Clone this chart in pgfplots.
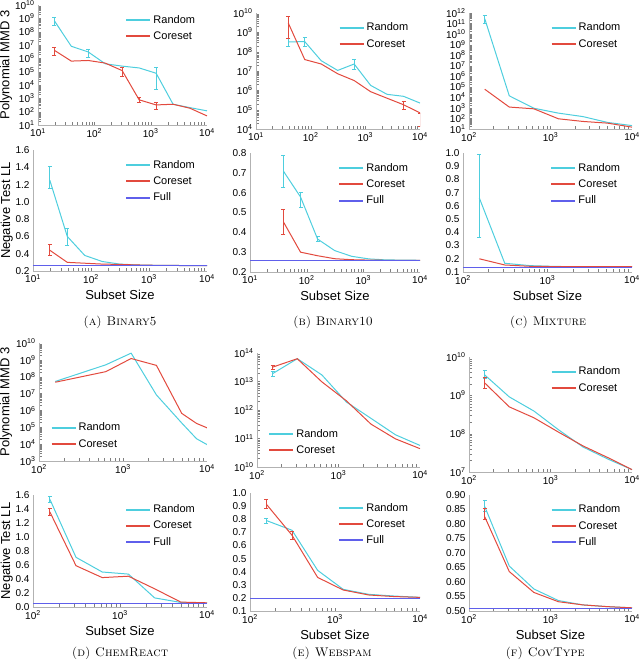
\documentclass[border=0pt]{standalone}
\usepackage{fontspec}
\newfontfamily\plotfont{Liberation Sans}
\usepackage{pgfplots}
\pgfplotsset{compat=1.18}

\definecolor{rndc}{RGB}{78,206,222}
\definecolor{corc}{RGB}{226,74,62}
\definecolor{fullc}{RGB}{95,95,235}
\newcommand{\tp}[1]{10\textsuperscript{#1}}

\pgfplotsset{
  every axis/.append style={
    scale only axis,
    axis lines*=left,
    axis line style={draw=black!30, line width=0.8pt},
    major tick length=0pt,
    tick label style={font=\plotfont\fontsize{10}{12}\selectfont},
    every axis label/.append style={font=\plotfont\fontsize{13}{15}\selectfont},
    legend style={draw=none, fill=none, font=\plotfont\fontsize{11}{13}\selectfont, row sep=3pt},
    legend cell align=left,
  },
  every outer x axis line/.style={-},
  every outer y axis line/.style={-},
  legend image code/.code={\draw[#1, line width=2pt] (0pt,0pt) -- (24pt,0pt);},
  myrnd/.style={color=rndc, line width=1pt, mark=none},
  mycor/.style={color=corc, line width=1pt, mark=none},
  myfull/.style={color=fullc, line width=1.2pt, mark=none},
  myerr/.style={error bars/y dir=both, error bars/y explicit, error bars/error mark=-,
    error bars/error bar style={line width=0.8pt}},
  mylin/.style={yticklabel style={/pgf/number format/fixed, /pgf/number format/fixed zerofill,
    /pgf/number format/precision=#1, /pgf/number format/assume math mode=true}},
  mytr/.style={legend style={at={(0.96,0.95)}, anchor=north east}},
  mybl/.style={legend style={at={(0.05,0.07)}, anchor=south west}},
}

\begin{document}
\begin{tikzpicture}
\useasboundingbox (0,0) rectangle (640pt,670pt);

% ---------- (a) Binary5 ----------
\begin{axis}[at={(38pt,545pt)}, anchor=south west, width=169pt, height=120pt,
  xmode=log, ymode=log, xmin=10, xmax=1e4,
  xtick={10,100,1000,10000}, xticklabels={\tp{1},\tp{2},\tp{3},\tp{4}},
  ymin=1e1, ymax=1e10,
  ytick={1e1,1e2,1e3,1e4,1e5,1e6,1e7,1e8,1e9,1e10},
  yticklabels={\tp{1},\tp{2},\tp{3},\tp{4},\tp{5},\tp{6},\tp{7},\tp{8},\tp{9},\tp{10}},
  ylabel={Polynomial MMD 3}, ylabel shift=-4pt, mytr]
\addplot[myrnd, myerr] coordinates {
  (19.5,6.6e8) += (0,5.4e8) -= (0,3.5e8)
  (39,8e6) (78,3e6) += (0,2.2e6) -= (0,1.8e6)
  (156,3.9e5) (312,2.6e5) (625,1.9e5)
  (1250,7.6e4) += (0,1.4e5) -= (0,7.1e4)
  (2500,3.6e2) (5000,2e2) (10000,1.15e2)
};
\addplot[mycor, myerr] coordinates {
  (19.5,4e6) += (0,2.3e6) -= (0,2.3e6)
  (39,6.2e5) (78,6.9e5) (156,4.4e5)
  (312,1.2e5) += (0,1e5) -= (0,7.7e4)
  (625,7.7e2) += (0,4.3e2) -= (0,2.8e2)
  (1250,3.2e2) += (0,1.7e2) -= (0,1.7e2)
  (2500,3.6e2) (5000,1.8e2) (10000,48)
};
\legend{Random,Coreset}
\end{axis}

\begin{axis}[at={(33pt,399pt)}, anchor=south west, width=174pt, height=121pt,
  xmode=log, xmin=10, xmax=1e4,
  xtick={10,100,1000,10000}, xticklabels={\tp{1},\tp{2},\tp{3},\tp{4}},
  ymin=0.2, ymax=1.6, ytick={0.2,0.4,...,1.6}, mylin=1,
  ylabel={Negative Test LL}, ylabel shift=-4pt, xlabel={Subset Size}, mytr]
\addplot[myrnd, myerr] coordinates {
  (19.5,1.25) += (0,0.16) -= (0,0.09)
  (39,0.60) += (0,0.10) -= (0,0.10)
  (78,0.38) (156,0.31) (312,0.28) (625,0.27) (1250,0.266) (2500,0.264) (5000,0.263) (10000,0.263)
};
\addplot[mycor, myerr] coordinates {
  (19.5,0.44) += (0,0.07) -= (0,0.06)
  (39,0.30) (78,0.29) (156,0.28) (312,0.276) (625,0.27) (1250,0.266) (2500,0.264) (5000,0.263) (10000,0.263)
};
\addplot[myfull] coordinates {(10,0.262) (10000,0.262)};
\legend{Random,Coreset,Full}
\end{axis}

% ---------- (b) Binary10 ----------
\begin{axis}[at={(256pt,541pt)}, anchor=south west, width=164pt, height=116pt,
  xmode=log, ymode=log, xmin=10, xmax=1e4,
  xtick={10,100,1000,10000}, xticklabels={\tp{1},\tp{2},\tp{3},\tp{4}},
  ymin=1e4, ymax=1e10,
  ytick={1e4,1e5,1e6,1e7,1e8,1e9,1e10},
  yticklabels={\tp{4},\tp{5},\tp{6},\tp{7},\tp{8},\tp{9},\tp{10}}, mytr]
\addplot[myrnd, myerr] coordinates {
  (39,3.2e8) += (0,1.9e8) -= (0,1.3e8)
  (78,3.3e8) += (0,2e8) -= (0,1.3e8)
  (156,3.4e7) (312,1.07e7)
  (625,2.3e7) += (0,1.9e7) -= (0,1.1e7)
  (1250,1.8e6) (2500,6.2e5) (5000,4.9e5) (10000,2.2e5)
};
\addplot[mycor, myerr] coordinates {
  (39,3e9) += (0,3.7e9) -= (0,2.5e9)
  (78,3.9e7) (156,2.3e7) (312,7.2e6) (625,3.2e6) (1250,8.5e5) (2500,3.9e5)
  (5000,1.8e5) += (0,0.8e5) -= (0,0.8e5)
  (10000,6.8e4) += (0,0) -= (0,5.4e4)
};
\legend{Random,Coreset}
\end{axis}

\begin{axis}[at={(250pt,398pt)}, anchor=south west, width=170pt, height=119pt,
  xmode=log, xmin=10, xmax=1e4,
  xtick={10,100,1000,10000}, xticklabels={\tp{1},\tp{2},\tp{3},\tp{4}},
  ymin=0.2, ymax=0.8, ytick={0.2,0.3,...,0.8}, mylin=1,
  xlabel={Subset Size}, mytr]
\addplot[myrnd, myerr] coordinates {
  (39,0.708) += (0,0.08) -= (0,0.08)
  (78,0.578) += (0,0.025) -= (0,0.05)
  (156,0.366) += (0,0.015) -= (0,0.01)
  (312,0.308) (625,0.279) (1250,0.266) (2500,0.261) (5000,0.26) (10000,0.259)
};
\addplot[mycor, myerr] coordinates {
  (39,0.452) += (0,0.066) -= (0,0.06)
  (78,0.30) (156,0.282) (312,0.267) (625,0.262) (1250,0.26) (2500,0.259) (5000,0.259) (10000,0.259)
};
\addplot[myfull] coordinates {(10,0.256) (10000,0.256)};
\legend{Random,Coreset,Full}
\end{axis}

% ---------- (c) Mixture ----------
\begin{axis}[at={(469pt,541pt)}, anchor=south west, width=163pt, height=116pt,
  xmode=log, ymode=log, xmin=100, xmax=1e4,
  xtick={100,1000,10000}, xticklabels={\tp{2},\tp{3},\tp{4}},
  ymin=1e1, ymax=1e12,
  ytick={1e1,1e2,1e3,1e4,1e5,1e6,1e7,1e8,1e9,1e10,1e11,1e12},
  yticklabels={\tp{1},\tp{2},\tp{3},\tp{4},\tp{5},\tp{6},\tp{7},\tp{8},\tp{9},\tp{10},\tp{11},\tp{12}},
  mytr]
\addplot[myrnd, myerr] coordinates {
  (156,2.9e11) += (0,3e11) -= (0,1.75e11)
  (312,1.4e4) (625,9.3e2) (1250,3.2e2) (2500,1.5e2) (5000,42) (10000,21)
};
\addplot[mycor] coordinates {
  (156,5.9e4) (312,1.2e3) (625,8.2e2) (1250,93) (2500,52) (5000,36) (10000,15)
};
\legend{Random,Coreset}
\end{axis}

\begin{axis}[at={(463pt,398pt)}, anchor=south west, width=169pt, height=119pt,
  xmode=log, xmin=100, xmax=1e4,
  xtick={100,1000,10000}, xticklabels={\tp{2},\tp{3},\tp{4}},
  ymin=0.1, ymax=1.0, ytick={0.1,0.2,...,1.0}, mylin=1,
  xlabel={Subset Size}, mytr]
\addplot[myrnd, myerr] coordinates {
  (156,0.66) += (0,0.33) -= (0,0.30)
  (312,0.166) (625,0.148) (1250,0.142) (2500,0.14) (5000,0.14) (10000,0.14)
};
\addplot[mycor] coordinates {
  (156,0.20) (312,0.153) (625,0.143) (1250,0.141) (2500,0.14) (5000,0.14) (10000,0.14)
};
\addplot[myfull] coordinates {(100,0.135) (10000,0.135)};
\legend{Random,Coreset,Full}
\end{axis}

% ---------- (d) ChemReact ----------
\begin{axis}[at={(39pt,209pt)}, anchor=south west, width=168pt, height=118pt,
  xmode=log, ymode=log, xmin=100, xmax=1e4,
  xtick={100,1000,10000}, xticklabels={\tp{2},\tp{3},\tp{4}},
  ymin=1e3, ymax=1e10,
  ytick={1e3,1e4,1e5,1e6,1e7,1e8,1e9,1e10},
  yticklabels={\tp{3},\tp{4},\tp{5},\tp{6},\tp{7},\tp{8},\tp{9},\tp{10}},
  ylabel={Polynomial MMD 3}, ylabel shift=-3pt, mybl]
\addplot[myrnd] coordinates {
  (156,5.2e7) (625,5.1e8) (1250,2.5e9) (2500,8.3e6) (5000,1.8e5) (7500,2.1e4) (10000,9.4e3)
};
\addplot[mycor] coordinates {
  (156,4.7e7) (625,2.0e8) (1250,1.2e9) (2500,4.7e8) (5000,6.7e5) (7500,1.7e5) (10000,9.3e4)
};
\legend{Random,Coreset}
\end{axis}

\begin{axis}[at={(33pt,63pt)}, anchor=south west, width=174pt, height=112pt,
  xmode=log, xmin=100, xmax=1e4,
  xtick={100,1000,10000}, xticklabels={\tp{2},\tp{3},\tp{4}},
  ymin=0, ymax=1.6, ytick={0,0.2,...,1.6}, mylin=1,
  ylabel={Negative Test LL}, ylabel shift=-4pt, xlabel={Subset Size}, mytr]
\addplot[myrnd, myerr] coordinates {
  (156,1.54) += (0,0.04) -= (0,0.04)
  (312,0.71) (625,0.50) (1250,0.47) (2500,0.13) (5000,0.065) (10000,0.055)
};
\addplot[mycor, myerr] coordinates {
  (156,1.36) += (0,0.05) -= (0,0.05)
  (312,0.59) (625,0.42) (1250,0.44) (2500,0.26) (5000,0.07) (10000,0.06)
};
\addplot[myfull] coordinates {(100,0.045) (10000,0.045)};
\legend{Random,Coreset,Full}
\end{axis}

% ---------- (e) Webspam ----------
\begin{axis}[at={(257pt,203pt)}, anchor=south west, width=163pt, height=114pt,
  xmode=log, ymode=log, xmin=100, xmax=1e4,
  xtick={100,1000,10000}, xticklabels={\tp{2},\tp{3},\tp{4}},
  ymin=1e10, ymax=1e14,
  ytick={1e10,1e11,1e12,1e13,1e14},
  yticklabels={\tp{10},\tp{11},\tp{12},\tp{13},\tp{14}}, mybl]
\addplot[myrnd, myerr] coordinates {
  (156,1.9e13) += (0,0.4e13) -= (0,0.4e13)
  (312,6.3e13) (625,1.7e13) (1250,1.9e12) (2500,5.1e11) (5000,1.35e11) (10000,5.7e10)
};
\addplot[mycor, myerr] coordinates {
  (156,3.2e13) += (0,0.4e13) -= (0,0.4e13)
  (312,6.3e13) (625,9.7e12) (1250,2.1e12) (2500,3.2e11) (5000,9.7e10) (10000,4.4e10)
};
\legend{Random,Coreset}
\end{axis}

\begin{axis}[at={(250pt,59pt)}, anchor=south west, width=170pt, height=118pt,
  xmode=log, xmin=100, xmax=1e4,
  xtick={100,1000,10000}, xticklabels={\tp{2},\tp{3},\tp{4}},
  ymin=0.1, ymax=1.0, ytick={0.1,0.2,...,1.0}, mylin=1,
  xlabel={Subset Size}, mytr]
\addplot[myrnd, myerr] coordinates {
  (156,0.79) += (0,0.02) -= (0,0.02)
  (312,0.716) (625,0.41) (1250,0.265) (2500,0.227) (5000,0.214) (10000,0.204)
};
\addplot[mycor, myerr] coordinates {
  (156,0.914) += (0,0.04) -= (0,0.03)
  (312,0.678) += (0,0.03) -= (0,0.03)
  (625,0.356) (1250,0.26) (2500,0.222) (5000,0.21) (10000,0.204)
};
\addplot[myfull] coordinates {(100,0.196) (10000,0.196)};
\legend{Random,Coreset,Full}
\end{axis}

% ---------- (f) CovType ----------
\begin{axis}[at={(469pt,198pt)}, anchor=south west, width=163pt, height=115pt,
  xmode=log, ymode=log, xmin=100, xmax=1e4,
  xtick={100,1000,10000}, xticklabels={\tp{2},\tp{3},\tp{4}},
  ymin=1e7, ymax=1e10,
  ytick={1e7,1e8,1e9,1e10},
  yticklabels={\tp{7},\tp{8},\tp{9},\tp{10}}, mytr]
\addplot[myrnd, myerr] coordinates {
  (156,3.4e9) += (0,1e9) -= (0,0.6e9)
  (312,9.1e8) (625,3.9e8) (1250,1.27e8) (2500,4.5e7) (5000,2.2e7) (10000,1.15e7)
};
\addplot[mycor, myerr] coordinates {
  (156,2.1e9) += (0,0.8e9) -= (0,0.6e9)
  (312,5e8) (625,2.6e8) (1250,1.1e8) (2500,4.8e7) (5000,2.4e7) (10000,1.15e7)
};
\legend{Random,Coreset}
\end{axis}

\begin{axis}[at={(469pt,59pt)}, anchor=south west, width=163pt, height=116pt,
  xmode=log, xmin=100, xmax=1e4,
  xtick={100,1000,10000}, xticklabels={\tp{2},\tp{3},\tp{4}},
  ymin=0.5, ymax=0.9, ytick={0.5,0.55,...,0.9}, mylin=2,
  xlabel={Subset Size}, mytr]
\addplot[myrnd, myerr] coordinates {
  (156,0.86) += (0,0.023) -= (0,0.017)
  (312,0.655) (625,0.576) (1250,0.536) (2500,0.521) (5000,0.515) (10000,0.511)
};
\addplot[mycor, myerr] coordinates {
  (156,0.825) += (0,0.03) -= (0,0.01)
  (312,0.636) (625,0.564) (1250,0.532) (2500,0.521) (5000,0.515) (10000,0.511)
};
\addplot[myfull] coordinates {(100,0.508) (10000,0.508)};
\legend{Random,Coreset,Full}
\end{axis}

% ---------- captions ----------
\node[font=\fontsize{12.5}{14}\selectfont] at (120pt,348pt) {\textsc{(a) Binary5}};
\node[font=\fontsize{12.5}{14}\selectfont] at (333pt,348pt) {\textsc{(b) Binary10}};
\node[font=\fontsize{12.5}{14}\selectfont] at (548pt,348pt) {\textsc{(c) Mixture}};
\node[font=\fontsize{12.5}{14}\selectfont] at (120pt,17pt) {\textsc{(d) ChemReact}};
\node[font=\fontsize{12.5}{14}\selectfont] at (332pt,17pt) {\textsc{(e) Webspam}};
\node[font=\fontsize{12.5}{14}\selectfont] at (545pt,17pt) {\textsc{(f) CovType}};
\end{tikzpicture}
\end{document}
